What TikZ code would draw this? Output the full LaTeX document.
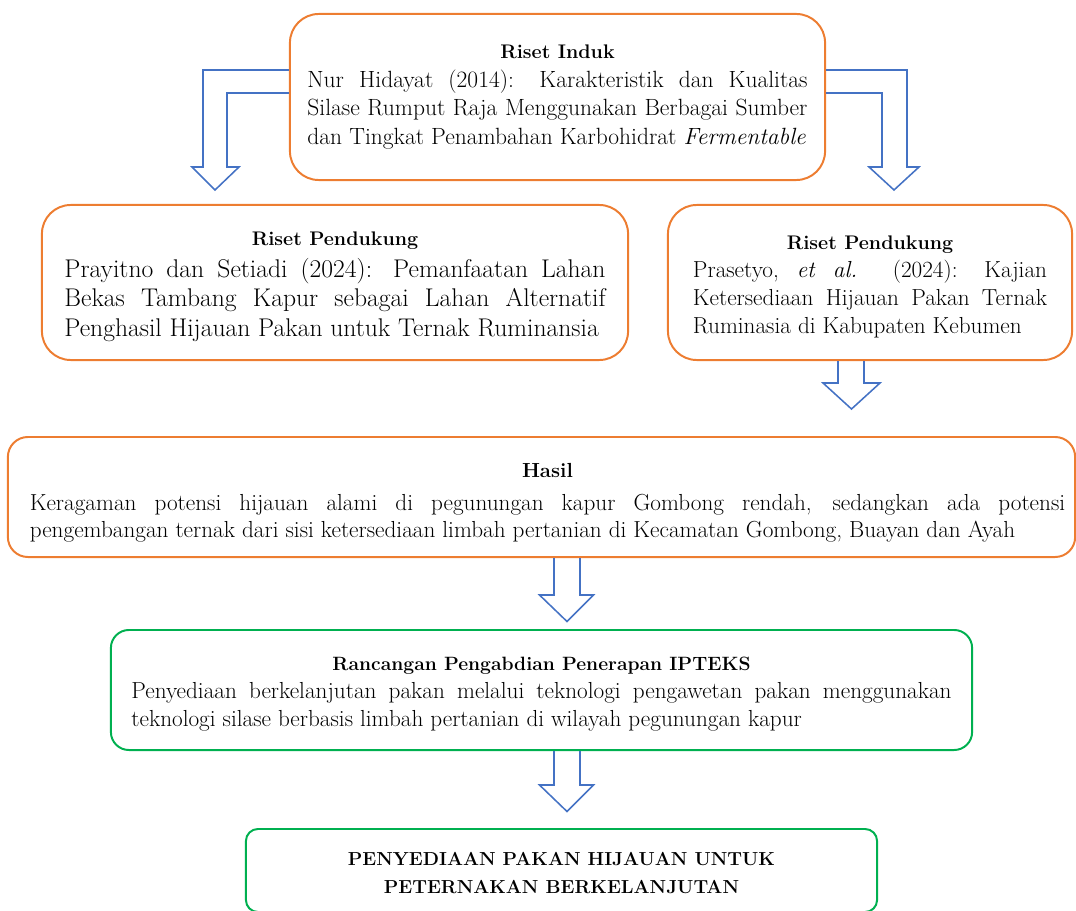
\documentclass[tikz,border=0pt]{standalone}
\usetikzlibrary{calc}
\definecolor{borange}{RGB}{237,125,49}
\definecolor{bgreen}{RGB}{0,176,80}
\definecolor{bblue}{RGB}{68,114,196}
\newcommand{\fsz}[2]{\fontsize{#1}{#2}\selectfont}
\newcommand{\boxtitle}[2]{{\centering\fsz{#1}{#1}\bfseries\rule{0pt}{0.8cm}#2\par}}
\newcommand{\btmstrut}[1]{\rule[-#1]{0pt}{#1}}
\begin{document}
\begin{tikzpicture}[x=0.025cm,y=-0.025cm,
  box/.style={draw, line width=1.4pt, fill=white, rectangle, inner sep=0pt, align=justify},
  obox/.style={box, draw=borange, rounded corners=0.72cm},
  gbox/.style={box, draw=bgreen, rounded corners=0.45cm},
  barrow/.style={draw=bblue, line width=1.1pt, line join=miter}]
\useasboundingbox (0,0) rectangle (1076,911);

\coordinate (aL) at (215,190);
\coordinate (aR) at (894,190);

% boxes
\node[obox, minimum width=13.375cm, minimum height=4.15cm, text width=12.5cm,
      font={\fsz{16.7}{20.3pt}\parindent=0pt}] (induk) at (557.5,97)
 {\boxtitle{14}{Riset Induk}
  Nur Hidayat (2014): Karakteristik dan Kualitas\linebreak
  Silase Rumput Raja Menggunakan Berbagai Sumber\linebreak
  dan Tingkat Penambahan Karbohidrat \textit{Fermentable}\btmstrut{0.575cm}};

\node[obox, minimum width=14.65cm, minimum height=3.875cm, text width=13.525cm,
      font={\fsz{18.2}{21.3pt}\parindent=0pt}] (rpa) at (335,282.5)
 {\boxtitle{14}{Riset Pendukung}\vspace{0.05cm}
  Prayitno dan Setiadi (2024): Pemanfaatan Lahan\linebreak
  Bekas Tambang Kapur sebagai Lahan Alternatif\linebreak
  Penghasil Hijauan Pakan untuk Ternak Ruminansia\btmstrut{0.375cm}};

\node[obox, minimum width=10.1cm, minimum height=3.875cm, text width=8.85cm,
      font={\fsz{16.5}{19.9pt}\parindent=0pt}] (rpb) at (870,282.5)
 {\boxtitle{14}{Riset Pendukung}
  Prasetyo, \textit{et al.} (2024): Kajian\linebreak
  Ketersediaan Hijauan Pakan Ternak\linebreak
  Ruminasia di Kabupaten Kebumen\btmstrut{0.35cm}};

\node[obox, rounded corners=0.5cm, minimum width=26.675cm, minimum height=3cm, text width=26.175cm,
      font={\fsz{16.5}{19.9pt}\parindent=0pt}] (hasil) at (541.5,497)
 {\boxtitle{14.5}{\hspace*{0.3cm}Hasil}\vspace{0.125cm}
  \hspace*{0.3cm}Keragaman potensi hijauan alami di pegunungan kapur Gombong rendah, sedangkan ada potensi\linebreak
  \hspace*{0.3cm}pengembangan ternak dari sisi ketersediaan limbah pertanian di Kecamatan Gombong, Buayan dan Ayah\btmstrut{0.275cm}};

\node[gbox, minimum width=21.525cm, minimum height=3cm, text width=20.5cm,
      font={\fsz{16.5}{19.9pt}\parindent=0pt}] (ranc) at (541.5,690)
 {\boxtitle{13.7}{Rancangan Pengabdian Penerapan IPTEKS}
  Penyediaan berkelanjutan pakan melalui teknologi pengawetan pakan menggunakan\linebreak
  teknologi silase berbasis limbah pertanian di wilayah pegunungan kapur\btmstrut{0.375cm}};

\node[gbox, rounded corners=0.3cm, align=center, minimum width=15.775cm, minimum height=2.075cm,
      font={\fsz{13.4}{19.9pt}\bfseries}] (final) at (561.5,870.5)
 {\rule{0pt}{0.725cm}PENYEDIAAN PAKAN HIJAUAN UNTUK\\PETERNAKAN BERKELANJUTAN\btmstrut{0.275cm}};

% bent arrows from Riset Induk
\draw[barrow] (induk.west |- 0,70) -- (203,70) -- (203,167) -- (192,167) -- (aL)
  -- (239,167) -- (227,167) -- (227,93) -- (induk.west |- 0,93);
\draw[barrow] (induk.east |- 0,70) -- (907,70) -- (907,167) -- (919,167) -- (aR)
  -- (869,167) -- (882,167) -- (882,93) -- (induk.east |- 0,93);

% straight arrows
\draw[barrow] (838,0 |- rpb.south) -- (838,383) -- (823,383) -- (851.5,409)
  -- (880,383) -- (864,383) -- (864,0 |- rpb.south);
\draw[barrow] (554,0 |- hasil.south) -- (554,595) -- (539.5,595) -- (567,621.5)
  -- (593.5,595) -- (580,595) -- (580,0 |- hasil.south);
\draw[barrow] (554,0 |- ranc.south) -- (554,785) -- (539.5,785) -- (567,811.5)
  -- (593.5,785) -- (580,785) -- (580,0 |- ranc.south);
\end{tikzpicture}
\end{document}
